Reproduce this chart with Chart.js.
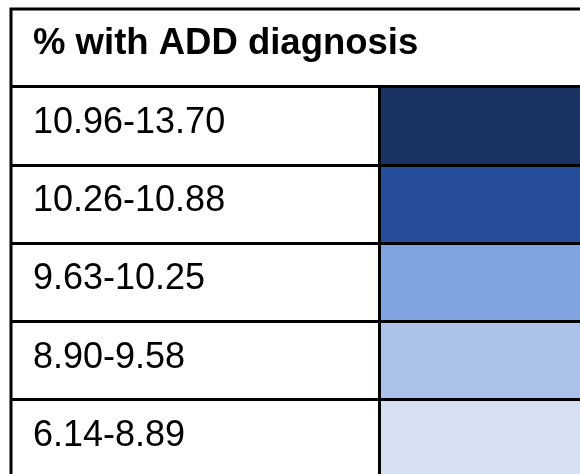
<!DOCTYPE html>
<html>
<head>
<meta charset="utf-8">
<script src="https://cdn.jsdelivr.net/npm/chart.js@4/dist/chart.umd.min.js"></script>
<style>
  html, body { margin: 0; padding: 0; background: #ffffff; overflow: hidden; }
  #wrap { position: relative; width: 580px; height: 478px; }
</style>
</head>
<body>
<div id="wrap"><canvas id="c" width="580" height="478"></canvas></div>
<script>
// ---- data ----
const headerTitle = '% with ADD diagnosis';
const rangeLabels = ['10.96-13.70', '10.26-10.88', '9.63-10.25', '8.90-9.58', '6.14-8.89'];
const cellValues = [1, 1, 1, 1, 1];
const cellColors = ['#1b3363', '#254d99', '#80a4e2', '#adc2eb', '#d5e0f3'];

// ---- layout constants ----
const FRAME_LEFT = 11;
const FRAME_TOP = 9;
const TEXT_LEFT = 33;
const COL_SPLIT = 379;
const LINE_W = 3;

const framePlugin = {
  id: 'frame',
  afterDraw(chart) {
    const ctx = chart.ctx;
    const y = chart.scales.y;
    ctx.save();
    ctx.strokeStyle = '#000';
    ctx.lineWidth = LINE_W;
    ctx.beginPath();
    ctx.moveTo(chart.width + 5, FRAME_TOP);
    ctx.lineTo(FRAME_LEFT, FRAME_TOP);
    ctx.lineTo(FRAME_LEFT, y.bottom + 5);
    ctx.stroke();
    ctx.restore();
  }
};

new Chart(document.getElementById('c'), {
  type: 'bar',
  data: {
    labels: rangeLabels,
    datasets: [{
      data: cellValues,
      backgroundColor: cellColors,
      borderWidth: 0,
      categoryPercentage: 1,
      barPercentage: 1
    }]
  },
  options: {
    indexAxis: 'y',
    responsive: false,
    animation: false,
    layout: { padding: { left: TEXT_LEFT, top: FRAME_TOP, right: 0, bottom: 0 } },
    plugins: {
      legend: { display: false },
      tooltip: { enabled: false },
      title: {
        display: true,
        text: headerTitle,
        align: 'start',
        color: '#000',
        font: { family: '"Liberation Sans", Arial, sans-serif', size: 36.5, weight: 'bold', lineHeight: 1.2 },
        padding: { top: 13, bottom: 21 }
      }
    },
    scales: {
      x: { display: false, min: 0, max: 1 },
      y: {
        z: 1,
        grid: {
          z: 1,
          display: true,
          offset: true,
          color: '#000',
          lineWidth: LINE_W,
          drawTicks: true,
          tickLength: COL_SPLIT - FRAME_LEFT,
          tickColor: '#000',
          tickWidth: LINE_W
        },
        border: { z: 2, display: true, color: '#000', width: LINE_W },
        ticks: {
          z: 2,
          crossAlign: 'far',
          color: '#000',
          padding: 0,
          labelOffset: -3,
          font: { family: '"Liberation Sans", Arial, sans-serif', size: 36, weight: 'normal' }
        },
        afterFit(scale) {
          scale.width = COL_SPLIT - TEXT_LEFT;
          scale.paddingTop = 0;
          scale.paddingBottom = 0;
        }
      }
    }
  },
  plugins: [framePlugin]
});
</script>
</body>
</html>
